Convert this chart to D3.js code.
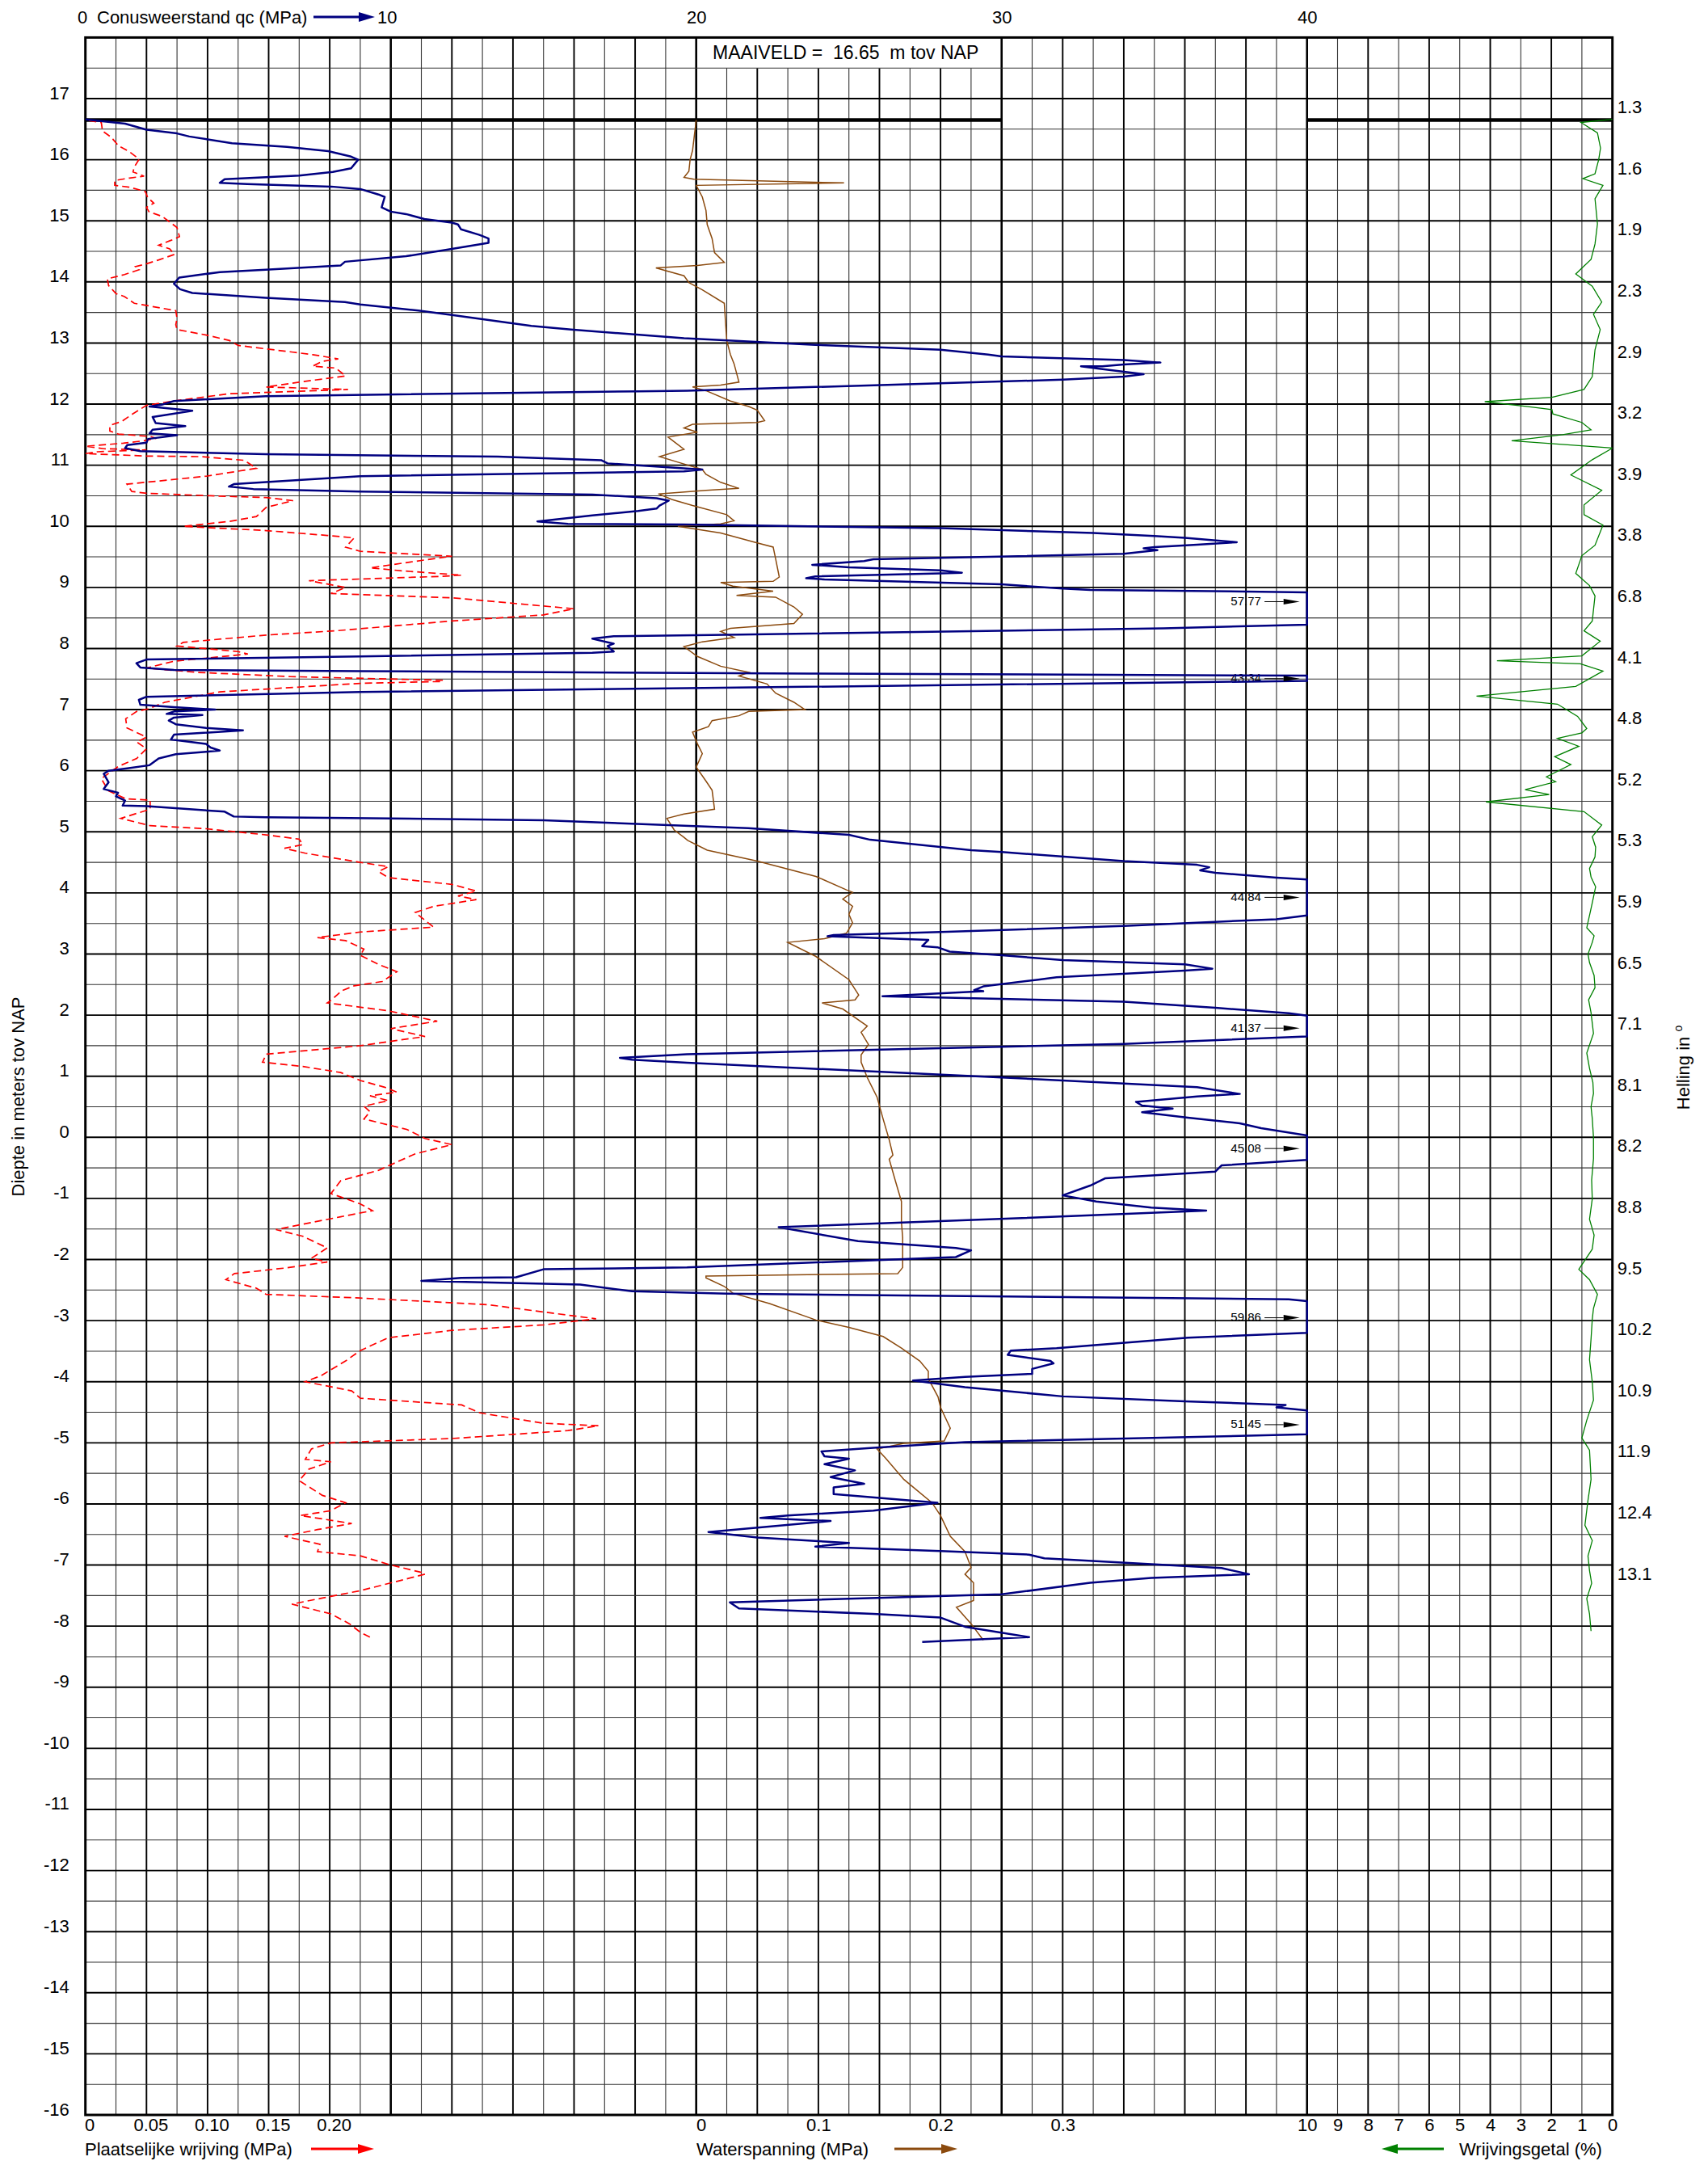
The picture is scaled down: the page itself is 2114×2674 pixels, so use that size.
<!DOCTYPE html>
<html>
<head>
<meta charset="utf-8">
<script src="https://cdn.jsdelivr.net/npm/d3@7/dist/d3.min.js"></script>
<style>
  body { margin: 0; background: #fff; }
  text { font-family: "Liberation Sans", Arial, Helvetica, sans-serif; fill: #000; }
</style>
</head>
<body>
<svg id="chart" width="2114" height="2674"></svg>
<script>
// ---- data (depth in m tov NAP, value) ----
const qcData = [ // conusweerstand qc, MPa
  [16.66,0],[16.59,1.3],[16.49,2.0],[16.43,3.0],[16.38,3.4],[16.27,4.8],[16.21,6.6],[16.14,7.95],[16.05,8.7],[16.0,8.93],
  [15.86,8.7],[15.80,8.1],[15.74,7.0],[15.68,4.56],[15.62,4.4],[15.60,5.3],[15.56,8.05],[15.52,9.0],[15.43,9.6],[15.39,9.8],
  [15.22,9.7],[15.15,10.0],[15.11,10.5],[15.03,11.1],[14.97,12.0],[14.94,12.2],[14.86,12.3],[14.77,12.9],[14.71,13.2],[14.64,13.2],
  [14.54,12.0],[14.42,10.5],[14.33,8.5],[14.27,8.36],[14.20,5.9],[14.16,4.4],[14.10,3.5],[14.07,3.07],[13.97,2.9],[13.88,3.1],
  [13.82,3.5],[13.74,5.9],[13.67,8.5],[13.63,9.0],[13.53,10.9],[13.46,12.0],[13.28,14.6],[13.22,15.9],[13.08,19.6],[12.97,23.9],
  [12.89,28.0],[12.81,29.56],[12.78,30.0],[12.72,34.0],[12.68,35.2],[12.65,34.0],[12.62,33.3],[12.62,32.6],[12.58,33.2],[12.49,34.65],
  [12.45,34.0],[12.40,32.0],[12.34,28.0],[12.28,23.9],[12.22,19.7],[12.21,18.1],[12.13,5.9],[12.05,2.9],[11.99,2.5],[11.96,2.1],
  [11.89,3.5],[11.79,2.2],[11.69,2.3],[11.64,3.27],[11.58,2.2],[11.52,2.1],[11.49,3.0],[11.43,2.05],[11.37,2.0],[11.33,1.37],
  [11.28,1.3],[11.23,1.8],[11.18,5.9],[11.14,13.5],[11.08,16.9],[11.03,17.1],[10.93,20.2],[10.90,19.6],[10.82,9.0],[10.69,4.86],
  [10.65,4.7],[10.61,5.5],[10.57,9.0],[10.52,16.6],[10.46,18.7],[10.42,19.1],[10.34,18.8],[10.29,18.7],[10.25,18.1],[10.18,16.6],
  [10.08,14.8],[10.04,15.8],[10.03,19.6],[9.97,28.0],[9.89,33.0],[9.84,35.0],[9.81,36.0],[9.74,37.7],[9.70,36.4],[9.66,35.0],
  [9.64,34.65],[9.61,35.1],[9.55,34.0],[9.46,25.8],[9.43,25.5],[9.37,23.8],[9.33,25.0],[9.28,28.0],[9.24,28.7],[9.23,28.0],
  [9.18,23.9],[9.15,23.6],[9.13,24.2],[9.05,30.0],[8.98,32.0],[8.96,32.9],[8.92,40.5],[8.78,57.77],[8.39,40.5],[8.33,35.3],
  [8.22,20.5],[8.20,17.3],[8.16,16.6],[8.08,17.3],[8.04,17.1],[7.95,17.3],[7.93,16.6],[7.87,9.0],[7.82,2.0],[7.76,1.67],
  [7.69,1.8],[7.65,2.9],[7.63,9.0],[7.59,23.7],[7.555,40.5],[7.52,43.34],[7.47,40.5],[7.35,19.7],[7.29,9.0],[7.21,2.0],
  [7.16,1.75],[7.08,1.8],[7.04,2.9],[7.00,4.25],[6.97,2.9],[6.93,2.66],[6.91,3.83],[6.87,2.9],[6.82,2.73],[6.76,2.96],
  [6.70,3.95],[6.66,5.16],[6.59,2.9],[6.51,2.8],[6.44,3.95],[6.38,4.1],[6.33,4.4],[6.31,3.95],[6.27,2.96],[6.20,2.4],
  [6.09,2.1],[6.04,1.37],[6.00,0.76],[5.95,0.6],[5.81,0.76],[5.70,0.6],[5.64,1.07],[5.58,1.0],[5.51,1.3],[5.43,1.22],
  [5.42,2.0],[5.33,4.56],[5.25,4.86],[5.24,5.9],[5.19,15.0],[5.06,21.7],[4.95,25.0],[4.87,25.7],[4.70,29.0],[4.67,30.0],
  [4.52,34.0],[4.46,36.4],[4.42,36.8],[4.37,36.5],[4.33,37.0],[4.25,39.0],[4.22,40.5],[3.94,44.84],[3.63,40.5],[3.57,39.0],
  [3.46,34.0],[3.36,28.0],[3.31,24.5],[3.29,24.3],[3.23,27.6],[3.13,27.4],[3.11,27.9],[3.04,28.3],[2.98,30.0],[2.90,32.0],
  [2.83,36.0],[2.76,36.9],[2.73,36.0],[2.62,31.8],[2.58,31.2],[2.47,29.4],[2.41,29.1],[2.39,29.4],[2.31,26.1],[2.28,28.8],
  [2.22,34.0],[2.12,37.0],[2.03,39.4],[1.99,40.5],[1.80,41.37],[1.65,40.5],[1.53,34.0],[1.36,19.7],[1.30,17.5],[1.27,17.9],
  [1.22,19.7],[0.98,30.0],[0.82,36.4],[0.71,37.8],[0.67,36.4],[0.58,34.4],[0.52,34.6],[0.47,35.6],[0.41,34.6],[0.32,36.1],
  [0.23,37.8],[0.15,38.5],[0.03,40.5],[-0.17,45.08],[-0.37,40.5],[-0.46,37.2],[-0.56,37.0],[-0.67,33.4],[-0.79,32.9],[-0.95,32.0],
  [-1.05,33.1],[-1.15,34.9],[-1.20,36.7],[-1.33,30.3],[-1.47,22.7],[-1.70,25.3],[-1.81,28.5],[-1.85,29.0],[-1.96,28.5],[-2.13,19.7],
  [-2.16,15.0],[-2.29,14.1],[-2.30,12.3],[-2.35,11.0],[-2.41,16.2],[-2.52,17.9],[-2.56,21.0],[-2.65,39.4],[-2.68,40.5],[-2.94,59.86],
  [-3.20,40.5],[-3.28,36.1],[-3.45,31.8],[-3.49,30.3],[-3.56,30.2],[-3.66,31.6],[-3.70,31.7],[-3.79,31.0],[-3.87,31.0],[-3.92,28.8],
  [-3.98,27.1],[-4.09,28.8],[-4.24,32.0],[-4.32,36.0],[-4.38,39.3],[-4.42,39.0],[-4.47,40.5],[-4.69,51.45],[-4.86,40.5],[-4.99,28.8],
  [-5.08,25.8],[-5.14,24.1],[-5.22,24.2],[-5.26,25.0],[-5.35,24.2],[-5.45,25.2],[-5.56,24.4],[-5.67,25.5],[-5.73,24.5],[-5.84,24.5],
  [-5.98,27.9],[-6.11,25.8],[-6.19,23.0],[-6.23,22.1],[-6.28,24.4],[-6.46,20.4],[-6.55,22.0],[-6.61,24.0],[-6.64,25.0],[-6.70,23.9],
  [-6.77,28.0],[-6.83,30.9],[-6.89,31.4],[-7.05,37.2],[-7.15,38.1],[-7.21,34.9],[-7.29,32.9],[-7.48,30.0],[-7.61,21.1],[-7.71,21.4],
  [-7.80,25.8],[-7.86,28.0],[-8.01,28.8],[-8.18,30.9],[-8.26,27.4]
];

const fsData = [ // plaatselijke wrijving, MPa
  [16.64,0.003],[16.61,0.013],[16.47,0.014],[16.37,0.021],[16.23,0.027],[16.13,0.036],[16.01,0.044],[15.88,0.040],[15.80,0.039],[15.73,0.048],
  [15.70,0.036],[15.66,0.024],[15.58,0.024],[15.55,0.036],[15.48,0.049],[15.38,0.051],[15.29,0.056],[15.22,0.050],[15.15,0.052],[15.07,0.063],
  [14.98,0.069],[14.89,0.075],[14.74,0.077],[14.68,0.070],[14.60,0.060],[14.54,0.069],[14.45,0.073],[14.36,0.060],[14.29,0.049],[14.25,0.041],
  [14.20,0.044],[14.12,0.032],[14.05,0.018],[13.94,0.019],[13.81,0.025],[13.76,0.032],[13.65,0.040],[13.60,0.054],[13.53,0.074],[13.40,0.075],
  [13.30,0.074],[13.22,0.075],[13.13,0.099],[13.04,0.118],[12.96,0.125],[12.85,0.170],[12.81,0.186],[12.74,0.207],[12.70,0.194],[12.62,0.186],
  [12.59,0.205],[12.46,0.213],[12.36,0.175],[12.28,0.148],[12.24,0.215],[12.17,0.118],[12.05,0.072],[11.98,0.050],[11.83,0.038],[11.72,0.030],
  [11.65,0.020],[11.56,0.020],[11.51,0.027],[11.47,0.053],[11.44,0.058],[11.40,0.048],[11.36,0.031],[11.31,0.0],[11.27,0.015],[11.25,0.050],
  [11.22,0.010],[11.19,0.0],[11.15,0.050],[11.14,0.095],[11.08,0.130],[10.95,0.140],[10.82,0.099],[10.69,0.034],[10.57,0.038],[10.54,0.050],
  [10.50,0.102],[10.47,0.148],[10.42,0.170],[10.31,0.148],[10.16,0.140],[10.08,0.118],[10.00,0.080],[9.93,0.148],[9.85,0.198],[9.81,0.220],
  [9.66,0.213],[9.59,0.225],[9.51,0.300],[9.45,0.278],[9.32,0.233],[9.27,0.260],[9.20,0.308],[9.18,0.290],[9.11,0.183],[9.00,0.213],
  [8.90,0.201],[8.83,0.300],[8.65,0.400],[8.55,0.375],[8.45,0.300],[8.29,0.205],[8.22,0.148],[8.10,0.080],[8.04,0.075],[7.95,0.125],
  [7.91,0.133],[7.79,0.072],[7.68,0.050],[7.61,0.091],[7.54,0.168],[7.48,0.293],[7.46,0.290],[7.43,0.225],[7.29,0.110],[7.12,0.065],
  [7.01,0.051],[6.97,0.042],[6.85,0.033],[6.70,0.034],[6.55,0.050],[6.47,0.042],[6.36,0.050],[6.20,0.042],[6.07,0.027],[5.87,0.013],
  [5.67,0.019],[5.54,0.033],[5.52,0.053],[5.37,0.053],[5.22,0.029],[5.10,0.053],[5.05,0.099],[4.95,0.148],[4.88,0.175],[4.79,0.178],
  [4.73,0.163],[4.65,0.180],[4.50,0.225],[4.43,0.248],[4.35,0.240],[4.25,0.248],[4.14,0.300],[4.03,0.320],[3.95,0.305],[3.89,0.320],
  [3.78,0.285],[3.68,0.270],[3.44,0.285],[3.36,0.225],[3.27,0.190],[3.22,0.213],[3.08,0.228],[2.98,0.225],[2.83,0.240],[2.71,0.255],
  [2.55,0.243],[2.48,0.220],[2.40,0.210],[2.24,0.201],[2.20,0.198],[2.07,0.248],[1.90,0.288],[1.78,0.250],[1.65,0.278],[1.50,0.225],
  [1.36,0.148],[1.23,0.145],[1.16,0.178],[1.06,0.209],[0.93,0.225],[0.82,0.245],[0.74,0.255],[0.68,0.233],[0.60,0.248],[0.51,0.228],
  [0.42,0.233],[0.30,0.228],[0.13,0.263],[-0.02,0.278],[-0.12,0.300],[-0.27,0.270],[-0.54,0.240],[-0.71,0.209],[-0.92,0.201],[-1.09,0.225],
  [-1.20,0.235],[-1.30,0.209],[-1.51,0.156],[-1.62,0.178],[-1.81,0.198],[-1.98,0.185],[-2.04,0.198],[-2.14,0.163],[-2.23,0.122],[-2.33,0.115],
  [-2.47,0.140],[-2.57,0.148],[-2.63,0.225],[-2.74,0.330],[-2.84,0.368],[-2.97,0.418],[-3.07,0.375],[-3.16,0.300],[-3.28,0.248],[-3.49,0.225],
  [-3.66,0.213],[-3.90,0.193],[-4.00,0.180],[-4.15,0.218],[-4.27,0.225],[-4.38,0.308],[-4.51,0.323],[-4.68,0.375],[-4.72,0.420],[-4.80,0.395],
  [-4.93,0.300],[-5.00,0.201],[-5.10,0.185],[-5.27,0.180],[-5.31,0.201],[-5.43,0.183],[-5.62,0.175],[-5.86,0.194],[-5.98,0.213],[-6.11,0.201],
  [-6.19,0.176],[-6.32,0.218],[-6.42,0.190],[-6.53,0.163],[-6.66,0.192],[-6.78,0.190],[-6.85,0.225],[-7.00,0.250],[-7.12,0.275],[-7.15,0.278],
  [-7.42,0.225],[-7.54,0.194],[-7.64,0.169],[-7.80,0.201],[-7.96,0.216],[-8.10,0.225],[-8.18,0.233]
];

const uData = [ // waterspanning, MPa
  [16.65,0.0],[16.15,-0.003],[16.0,-0.005],[15.81,-0.006],[15.71,-0.010],[15.68,-0.002],[15.62,0.121],[15.58,0.0],[15.39,0.005],[15.17,0.008],
  [14.94,0.009],[14.71,0.013],[14.48,0.015],[14.32,0.023],[14.27,0.001],[14.23,-0.033],[14.10,-0.010],[13.99,-0.006],[13.87,0.005],[13.65,0.023],
  [13.34,0.024],[13.04,0.025],[12.81,0.028],[12.66,0.031],[12.36,0.035],[12.31,0.020],[12.28,-0.003],[12.22,0.008],[12.05,0.028],[11.96,0.043],
  [11.90,0.050],[11.73,0.056],[11.70,0.050],[11.67,-0.003],[11.61,-0.010],[11.54,0.001],[11.46,-0.023],[11.26,-0.010],[11.14,-0.030],[11.05,-0.015],
  [10.93,0.005],[10.85,0.008],[10.72,0.020],[10.62,0.035],[10.59,0.008],[10.53,-0.031],[10.44,-0.020],[10.34,-0.003],[10.19,0.025],[10.09,0.031],
  [10.04,0.020],[10.00,-0.015],[9.89,0.020],[9.74,0.048],[9.66,0.063],[9.47,0.065],[9.17,0.068],[9.10,0.063],[9.08,0.020],[9.02,0.030],
  [8.94,0.063],[8.87,0.033],[8.84,0.065],[8.68,0.080],[8.56,0.087],[8.41,0.080],[8.33,0.028],[8.28,0.020],[8.18,0.031],[8.11,0.005],
  [8.03,-0.010],[7.87,0.001],[7.71,0.020],[7.61,0.043],[7.55,0.035],[7.42,0.058],[7.27,0.065],[7.12,0.080],[7.00,0.089],[6.97,0.043],
  [6.90,0.035],[6.82,0.013],[6.72,0.010],[6.63,-0.003],[6.44,0.001],[6.28,0.005],[6.06,0.0],[5.83,0.008],[5.68,0.013],[5.37,0.015],
  [5.29,-0.010],[5.22,-0.024],[5.03,-0.018],[4.91,-0.010],[4.86,-0.007],[4.70,0.009],[4.52,0.050],[4.27,0.098],[4.05,0.123],[4.01,0.128],
  [3.90,0.120],[3.78,0.128],[3.65,0.125],[3.51,0.128],[3.34,0.123],[3.25,0.105],[3.19,0.075],[2.96,0.098],[2.58,0.125],[2.33,0.133],
  [2.25,0.130],[2.20,0.103],[2.10,0.120],[1.82,0.140],[1.72,0.135],[1.52,0.141],[1.35,0.135],[1.23,0.135],[0.98,0.140],[0.66,0.148],
  [0.30,0.153],[-0.04,0.158],[-0.29,0.161],[-0.36,0.158],[-0.71,0.163],[-1.05,0.168],[-1.39,0.168],[-1.64,0.169],[-2.13,0.169],[-2.23,0.165],
  [-2.27,0.008],[-2.30,0.008],[-2.44,0.023],[-2.55,0.030],[-2.72,0.060],[-2.99,0.098],[-3.11,0.125],[-3.26,0.153],[-3.45,0.168],[-3.66,0.183],
  [-3.83,0.190],[-3.95,0.190],[-4.25,0.198],[-4.42,0.200],[-4.76,0.208],[-4.97,0.203],[-5.01,0.170],[-5.10,0.148],[-5.25,0.155],[-5.60,0.170],
  [-5.98,0.193],[-6.19,0.200],[-6.53,0.208],[-6.78,0.220],[-7.04,0.225],[-7.15,0.220],[-7.29,0.227],[-7.58,0.227],[-7.69,0.213],[-7.96,0.225],
  [-8.23,0.235]
];

const rfData = [ // wrijvingsgetal, %
  [16.66,0.0],[16.61,1.03],[16.44,0.49],[16.19,0.39],[16.0,0.45],[15.77,0.57],[15.69,0.97],[15.58,0.31],[15.36,0.57],[14.95,0.49],
  [14.62,0.57],[14.37,0.70],[14.13,1.20],[13.93,0.66],[13.67,0.35],[13.47,0.62],[13.22,0.40],[12.89,0.57],[12.45,0.66],[12.24,0.93],
  [12.11,1.98],[12.04,4.18],[11.96,2.77],[11.91,1.98],[11.84,1.95],[11.70,1.00],[11.58,0.70],[11.50,1.63],[11.40,3.30],[11.28,0.0],
  [11.09,0.66],[10.84,1.36],[10.59,0.35],[10.35,0.93],[10.19,0.93],[10.02,0.31],[9.69,0.57],[9.52,1.00],[9.23,1.20],[9.03,0.75],
  [8.86,0.57],[8.45,0.66],[8.29,0.93],[8.12,0.40],[7.88,1.00],[7.80,3.78],[7.75,1.05],[7.63,0.31],[7.38,1.20],[7.22,4.45],
  [7.09,1.80],[6.89,1.14],[6.69,0.84],[6.62,1.00],[6.53,1.80],[6.40,1.10],[6.23,1.89],[6.10,1.36],[5.90,2.16],[5.82,1.86],
  [5.69,2.86],[5.61,2.07],[5.49,4.14],[5.33,0.93],[5.11,0.35],[4.92,0.66],[4.75,0.55],[4.59,0.57],[4.40,0.75],[4.26,0.70],
  [4.10,0.55],[3.93,0.62],[3.70,0.72],[3.43,0.84],[3.30,0.60],[3.19,0.66],[3.00,0.80],[2.86,0.75],[2.65,0.60],[2.45,0.57],
  [2.25,0.78],[2.04,0.70],[1.70,0.62],[1.38,0.84],[1.13,0.75],[0.90,0.64],[0.72,0.62],[0.50,0.70],[0.31,0.66],[0.00,0.62],
  [-0.35,0.62],[-0.70,0.68],[-1.01,0.66],[-1.34,0.75],[-1.60,0.60],[-1.83,0.66],[-2.16,1.10],[-2.33,0.75],[-2.57,0.49],[-2.80,0.62],
  [-2.98,0.66],[-3.30,0.70],[-3.64,0.75],[-4.00,0.66],[-4.30,0.62],[-4.63,0.84],[-4.92,1.00],[-5.12,0.75],[-5.40,0.72],[-5.60,0.70],
  [-5.94,0.80],[-6.35,0.90],[-6.60,0.66],[-6.85,0.80],[-7.09,0.75],[-7.30,0.68],[-7.55,0.84],[-7.80,0.75],[-8.08,0.70]
];

// qc values above 40 MPa, written at the clipped peaks
const overLabels = ["57.77", "43.34", "44.84", "41.37", "45.08", "59.86", "51.45"];
const overDepths = [8.78, 7.52, 3.94, 1.80, -0.17, -2.94, -4.69];

// tick labels
const depthLabels = [17,16,15,14,13,12,11,10,9,8,7,6,5,4,3,2,1,0,-1,-2,-3,-4,-5,-6,-7,-8,-9,-10,-11,-12,-13,-14,-15,-16];
const qcTicks = [0, 10, 20, 30, 40];
const fsTicks = [0, 0.05, 0.10, 0.15, 0.20];
const fsTickLabels = ["0", "0.05", "0.10", "0.15", "0.20"];
const uTicks = [0, 0.1, 0.2, 0.3];
const uTickLabels = ["0", "0.1", "0.2", "0.3"];
const rfTicks = [10, 9, 8, 7, 6, 5, 4, 3, 2, 1, 0];
const hellingDepths = [17,16,15,14,13,12,11,10,9,8,7,6,5,4,3,2,1,0,-1,-2,-3,-4,-5,-6,-7];
const hellingLabels = ["1.3","1.6","1.9","2.3","2.9","3.2","3.9","3.8","6.8","4.1","4.8","5.2","5.3","5.9","6.5","7.1","8.1","8.2","8.8","9.5","10.2","10.9","11.9","12.4","13.1"];
const maaiveld = 16.65;

// ---- layout ----
const W = 2114, H = 2674;
const gLeft = 105.7, unit = 37.8, gTop = 46.4, gBottom = 2617;

const svg = d3.select('#chart');
svg.append('rect').attr('width', W).attr('height', H).attr('fill', '#fff');

const yDepth = d3.scaleLinear().domain([18, -16]).range([gTop, gBottom]);
const xGrid = d3.scaleLinear().domain([0, 50]).range([gLeft, gLeft + 50 * unit]);
const xQc = d3.scaleLinear().domain([0, 40]).range([xGrid(0), xGrid(40)]).clamp(true);
const xFs = d3.scaleLinear().domain([0, 0.25]).range([xGrid(0), xGrid(10)]);
const xU = d3.scaleLinear().domain([0, 0.1]).range([xGrid(20), xGrid(24)]);
const xRf = d3.scaleLinear().domain([10, 0]).range([xGrid(40), xGrid(50)]);
const gRight = xGrid(50);

// labels of the clipped qc peaks (under the grid, as in the print)
svg.append('g').selectAll('text').data(overLabels).join('text')
  .attr('x', xGrid(38) - 18.8)
  .attr('y', (d, i) => yDepth(overDepths[i]) + 5.5)
  .attr('font-size', 15)
  .text(d => d);

// ---- grid ----
const grid = svg.append('g');
grid.selectAll('line.v').data(d3.range(1, 50)).join('line')
  .attr('class', 'v')
  .attr('x1', k => xGrid(k)).attr('x2', k => xGrid(k))
  .attr('y1', k => (k > 20 && k < 30) ? yDepth(17.5) : gTop)
  .attr('y2', gBottom)
  .attr('stroke', k => k % 2 ? '#333' : '#000')
  .attr('stroke-width', k => k % 10 === 0 ? 2.6 : (k % 2 === 0 ? 1.9 : 1.1));

grid.selectAll('line.h').data(d3.range(17.5, -16, -0.5)).join('line')
  .attr('class', 'h')
  .attr('x1', gLeft).attr('x2', gRight)
  .attr('y1', d => yDepth(d)).attr('y2', d => yDepth(d))
  .attr('stroke', d => Number.isInteger(d) ? '#000' : '#333')
  .attr('stroke-width', d => Number.isInteger(d) ? 1.9 : 1.1);

// maaiveld line, interrupted between 30 and 40
[[0, 30], [40, 50]].forEach(([a, b]) => {
  grid.append('line')
    .attr('x1', xGrid(a)).attr('x2', xGrid(b))
    .attr('y1', yDepth(maaiveld)).attr('y2', yDepth(maaiveld))
    .attr('stroke', '#000').attr('stroke-width', 4.5);
});

grid.append('rect')
  .attr('x', gLeft).attr('y', gTop)
  .attr('width', gRight - gLeft).attr('height', gBottom - gTop)
  .attr('fill', 'none').attr('stroke', '#000').attr('stroke-width', 3);

svg.append('text')
  .attr('x', (xGrid(20) + xGrid(30)) / 2 - 4)
  .attr('y', (gTop + yDepth(17.5)) / 2 + 8)
  .attr('text-anchor', 'middle')
  .attr('font-size', 23)
  .style('white-space', 'pre')
  .text('MAAIVELD =  16.65  m tov NAP');

// ---- curves ----
svg.append('clipPath').attr('id', 'plotclip')
  .append('rect').attr('x', gLeft).attr('y', gTop).attr('width', gRight - gLeft).attr('height', gBottom - gTop);

const curves = svg.append('g').attr('clip-path', 'url(#plotclip)');

curves.append('path').datum(fsData)
  .attr('fill', 'none').attr('stroke', '#ff0000').attr('stroke-width', 1.7)
  .attr('stroke-dasharray', '9,5')
  .attr('d', d3.line().x(d => xFs(d[1])).y(d => yDepth(d[0])));

curves.append('path').datum(uData)
  .attr('fill', 'none').attr('stroke', '#8b4a0e').attr('stroke-width', 1.5)
  .attr('d', d3.line().x(d => xU(d[1])).y(d => yDepth(d[0])));

curves.append('path').datum(rfData)
  .attr('fill', 'none').attr('stroke', '#008000').attr('stroke-width', 1.3)
  .attr('d', d3.line().x(d => xRf(d[1])).y(d => yDepth(d[0])));

curves.append('path').datum(qcData)
  .attr('fill', 'none').attr('stroke', '#000080').attr('stroke-width', 2.5)
  .attr('stroke-linejoin', 'round')
  .attr('d', d3.line().x(d => xQc(d[1])).y(d => yDepth(d[0])));

// arrows behind the clipped labels
function arrow(g, x1, x2, y, color, w, headLen, headHalf) {
  const dir = x2 > x1 ? 1 : -1;
  g.append('line')
    .attr('x1', x1).attr('x2', x2 - dir * headLen)
    .attr('y1', y).attr('y2', y)
    .attr('stroke', color).attr('stroke-width', w);
  g.append('path')
    .attr('d', `M${x2},${y}L${x2 - dir * headLen},${y - headHalf}L${x2 - dir * headLen},${y + headHalf}Z`)
    .attr('fill', color);
}
const noteArrows = svg.append('g');
overDepths.forEach(d => arrow(noteArrows, xGrid(38) + 23, xGrid(40) - 9, yDepth(d) + 1, '#000', 1, 20, 3.5));

// ---- axes ----
const yAxis = svg.append('g').attr('transform', `translate(${gLeft},0)`)
  .call(d3.axisLeft(yDepth).tickValues(depthLabels).tickSize(0).tickPadding(20).tickFormat(d => String(d)));
yAxis.select('.domain').remove();
yAxis.selectAll('text').attr('font-size', 22).attr('dy', '0').attr('font-family', null);

const hAxis = svg.append('g').attr('transform', `translate(${gRight},0)`)
  .call(d3.axisRight(yDepth).tickValues(hellingDepths).tickSize(0).tickPadding(6)
    .tickFormat((d, i) => hellingLabels[i]));
hAxis.select('.domain').remove();
hAxis.selectAll('text').attr('font-size', 22).attr('dy', '0.8em').attr('font-family', null);

const qcAxis = svg.append('g').attr('transform', 'translate(0,29)')
  .call(d3.axisTop(xQc).tickValues(qcTicks).tickSize(0).tickPadding(0).tickFormat(d => String(d)));
qcAxis.select('.domain').remove();
qcAxis.selectAll('text').attr('font-size', 22).attr('dy', '0').attr('font-family', null)
  .attr('dx', d => d === 0 ? -4 : (d === 10 ? -5 : 0));

function bottomAxis(scale, ticks, fmt) {
  const g = svg.append('g').attr('transform', 'translate(0,2637)')
    .call(d3.axisBottom(scale).tickValues(ticks).tickSize(0).tickPadding(0).tickFormat(fmt));
  g.select('.domain').remove();
  g.selectAll('text').attr('font-size', 22).attr('dy', '0').attr('font-family', null);
  return g;
}
bottomAxis(xFs, fsTicks, (d, i) => fsTickLabels[i]).selectAll('text').attr('dx', 5);
bottomAxis(xU, uTicks, (d, i) => uTickLabels[i]).selectAll('text').attr('dx', d => d === 0 ? 6 : 0);
bottomAxis(xRf, rfTicks, d => String(d));

// ---- titles and legend arrows ----
svg.append('text').attr('x', 120).attr('y', 29).attr('font-size', 22).text('Conusweerstand qc (MPa)');
arrow(svg, 388, 464, 21, '#000080', 3, 20, 6);

svg.append('text').attr('x', 105).attr('y', 2667).attr('font-size', 22).text('Plaatselijke wrijving (MPa)');
arrow(svg, 385, 463, 2659, '#ff0000', 3, 20, 6);

svg.append('text').attr('x', 862).attr('y', 2667).attr('font-size', 22).text('Waterspanning (MPa)');
arrow(svg, 1107, 1185, 2659, '#8b4a0e', 3, 20, 6);

arrow(svg, 1787, 1710, 2659, '#008000', 3, 20, 6);
svg.append('text').attr('x', 1806).attr('y', 2667).attr('font-size', 22).text('Wrijvingsgetal (%)');

svg.append('text')
  .attr('transform', 'translate(30,1357) rotate(-90)')
  .attr('text-anchor', 'middle').attr('font-size', 22)
  .text('Diepte in meters tov NAP');

const hel = svg.append('text')
  .attr('transform', 'translate(2091,1321) rotate(-90)')
  .attr('text-anchor', 'middle').attr('font-size', 22);
hel.append('tspan').text('Helling in ');
hel.append('tspan').attr('font-size', 14).attr('dy', -9).text('o');
</script>
</body>
</html>
